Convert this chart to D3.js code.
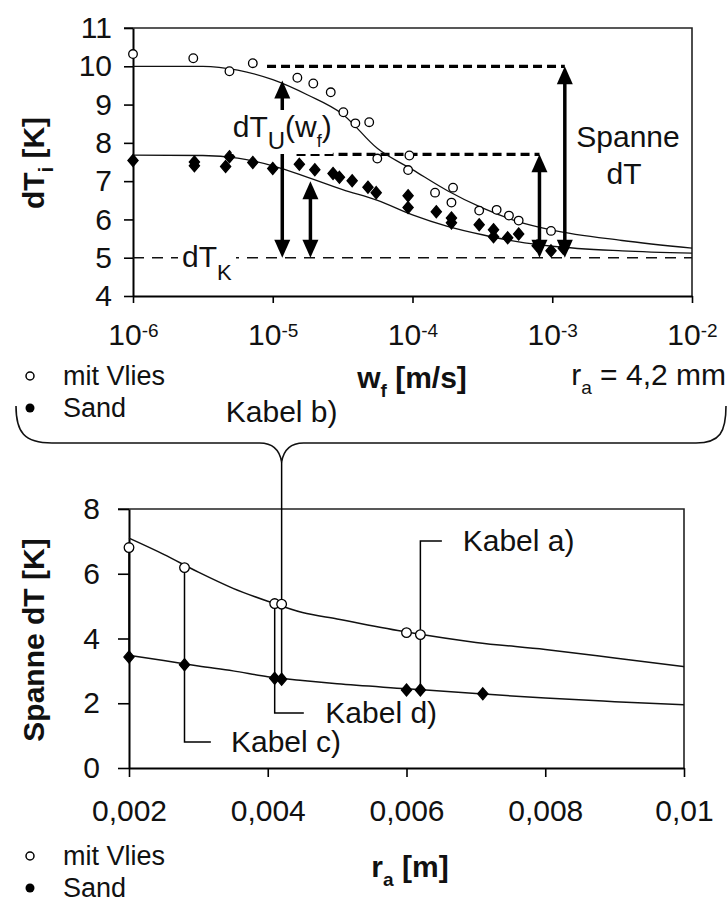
<!DOCTYPE html>
<html><head><meta charset="utf-8">
<script src="https://cdn.jsdelivr.net/npm/d3@7"></script>
<style>
body{margin:0;background:#fff}
text{font-family:"Liberation Sans",Arial,sans-serif;fill:#111}
</style></head><body>
<svg id="c" width="728" height="902" xmlns="http://www.w3.org/2000/svg"></svg>
<script>
// ---------- top chart data ----------
const topXTicks = [1e-6, 1e-5, 1e-4, 1e-3, 1e-2];
const topXTickExp = ["-6", "-5", "-4", "-3", "-2"];
const topYTicks = [4, 5, 6, 7, 8, 9, 10, 11];
const vliesW = [1e-6, 2.7e-6, 4.9e-6, 7.2e-6, 1.5e-5, 1.95e-5, 2.6e-5, 3.2e-5, 3.9e-5, 4.9e-5, 5.6e-5, 9.5e-5, 9.3e-5, 1.45e-4, 1.95e-4, 1.9e-4, 3.0e-4, 4.0e-4, 4.9e-4, 5.75e-4, 9.8e-4];
const vliesT = [10.32, 10.21, 9.87, 10.08, 9.70, 9.55, 9.32, 8.80, 8.51, 8.54, 7.59, 7.67, 7.29, 6.70, 6.83, 6.44, 6.23, 6.25, 6.10, 5.97, 5.70];
const sandW = [1e-6, 2.75e-6, 2.75e-6, 4.9e-6, 4.6e-6, 7.2e-6, 1e-5, 1.55e-5, 2e-5, 2.7e-5, 3.0e-5, 3.7e-5, 4.8e-5, 5.5e-5, 9.3e-5, 9.3e-5, 1.48e-4, 1.9e-4, 1.9e-4, 3.0e-4, 3.8e-4, 3.8e-4, 4.8e-4, 5.75e-4, 7.8e-4, 9.8e-4, 1.2e-3];
const sandT = [7.54, 7.50, 7.40, 7.64, 7.38, 7.49, 7.33, 7.44, 7.30, 7.20, 7.10, 7.01, 6.84, 6.70, 6.62, 6.31, 6.20, 6.04, 5.91, 5.86, 5.73, 5.55, 5.52, 5.62, 5.31, 5.18, 5.25];
const fitW = [1e-6, 3.16e-6, 5.62e-6, 1e-5, 1.78e-5, 3.16e-5, 5.62e-5, 1e-4, 1.78e-4, 3.16e-4, 5.62e-4, 1e-3, 3.16e-3, 1e-2];
const fitVliesT = [10.0, 10.0, 9.9, 9.65, 9.25, 8.75, 7.85, 7.3, 6.75, 6.3, 5.95, 5.72, 5.45, 5.25];
const fitSandT = [7.68, 7.67, 7.6, 7.4, 7.1, 6.78, 6.5, 6.12, 5.82, 5.6, 5.42, 5.3, 5.18, 5.12];
const dTK = 5;
const spanLevels = [10.0, 7.7];
const spanStartW = [9.1e-6, 1.48e-5];
const arrowW = [1.17e-5, 1.86e-5, 8.1e-4, 1.23e-3];
const arrowTop = [9.63, 7.0, 7.7, 10.0];

// ---------- bottom chart data ----------
const raTicks = [0.002, 0.004, 0.006, 0.008, 0.01];
const raTickLabels = ["0,002", "0,004", "0,006", "0,008", "0,01"];
const spanYTicks = [0, 2, 4, 6, 8];
const vliesRa = [0.002, 0.0028, 0.0041, 0.0042, 0.006, 0.0062];
const vliesSpan = [6.81, 6.19, 5.08, 5.06, 4.18, 4.12];
const sandRa = [0.002, 0.0028, 0.0041, 0.0042, 0.006, 0.0062, 0.0071];
const sandSpan = [3.43, 3.19, 2.77, 2.74, 2.41, 2.41, 2.29];
const fitRa = [0.002, 0.0025, 0.003, 0.0035, 0.004, 0.0045, 0.005, 0.006, 0.007, 0.008, 0.009, 0.01];
const fitRaVlies = [7.1, 6.6, 6.05, 5.55, 5.15, 4.8, 4.6, 4.2, 3.88, 3.66, 3.4, 3.13];
const fitRaSand = [3.48, 3.32, 3.15, 3.0, 2.82, 2.7, 2.6, 2.45, 2.3, 2.16, 2.05, 1.95];

const FS = 30;
const svg = d3.select("#c");

// ================= TOP CHART =================
const xT = d3.scaleLog().domain([1e-6, 1e-2]).range([133, 692]);
const yT = d3.scaleLinear().domain([4, 11]).range([296, 28]);

svg.append("path")
  .attr("d", `M${xT(1e-6) - 9},${yT(11)}H${xT(1e-2)}V${yT(4)}`)
  .attr("fill", "none").attr("stroke", "#222").attr("stroke-width", 1.6);

const gyT = svg.append("g").attr("transform", `translate(${xT(1e-6)},0)`)
  .call(d3.axisLeft(yT).tickValues(topYTicks).tickFormat(d3.format("d")).tickSize(9).tickPadding(12).tickSizeOuter(0));
const gxT = svg.append("g").attr("transform", `translate(0,${yT(4)})`)
  .call(d3.axisBottom(xT).tickValues(topXTicks).tickSize(7).tickPadding(21).tickSizeOuter(0).tickFormat(() => ""));
gxT.selectAll(".tick text").each(function (d, i) {
  const t = d3.select(this);
  t.append("tspan").text("10");
  t.append("tspan").attr("dy", "-0.42em").attr("font-size", 19).text(topXTickExp[i]);
});

svg.append("line")
  .attr("x1", xT(1e-6)).attr("x2", xT(1e-2)).attr("y1", yT(dTK)).attr("y2", yT(dTK))
  .attr("stroke", "#111").attr("stroke-width", 1.5).attr("stroke-dasharray", "11,8");

spanLevels.forEach((v, i) => {
  svg.append("line")
    .attr("x1", xT(spanStartW[i])).attr("x2", xT(arrowW[i === 0 ? 3 : 2]))
    .attr("y1", yT(v)).attr("y2", yT(v))
    .attr("stroke", "#000").attr("stroke-width", 3.2).attr("stroke-dasharray", "9,5");
});

const lineT = d3.line().x(d => xT(d[0])).y(d => yT(d[1])).curve(d3.curveMonotoneX);
[fitVliesT, fitSandT].forEach(arr => {
  svg.append("path").datum(fitW.map((w, i) => [w, arr[i]]))
    .attr("d", lineT).attr("fill", "none").attr("stroke", "#111").attr("stroke-width", 1.3);
});

function diamond(g, x, y, h, fill) {
  g.append("path").attr("d", `M${x},${y - h}L${x + h * 0.85},${y}L${x},${y + h}L${x - h * 0.85},${y}Z`)
    .attr("fill", fill).attr("stroke", "#000").attr("stroke-width", 1.3);
}
const mT = svg.append("g");
sandW.forEach((w, i) => diamond(mT, xT(w), yT(sandT[i]), 6, "#000"));
vliesW.forEach((w, i) => {
  mT.append("circle").attr("cx", xT(w)).attr("cy", yT(vliesT[i])).attr("r", 4.3)
    .attr("fill", "#fff").attr("stroke", "#000").attr("stroke-width", 1.3);
});

function dArrow(x, y1, y2) {
  const g = svg.append("g");
  g.append("line").attr("x1", x).attr("x2", x).attr("y1", y1 + 12).attr("y2", y2 - 12)
    .attr("stroke", "#000").attr("stroke-width", 3.5);
  g.append("path").attr("d", `M${x},${y1}L${x + 8},${y1 + 18}L${x - 8},${y1 + 18}Z`).attr("fill", "#000");
  g.append("path").attr("d", `M${x},${y2}L${x + 8},${y2 - 18}L${x - 8},${y2 - 18}Z`).attr("fill", "#000");
}
arrowW.forEach((w, i) => dArrow(xT(w), yT(arrowTop[i]), yT(dTK)));

function labelBg(t, padX, padY) {
  const b = t.node().getBBox();
  const r = document.createElementNS("http://www.w3.org/2000/svg", "rect");
  t.node().parentNode.insertBefore(r, t.node());
  d3.select(r)
    .attr("x", b.x - padX).attr("y", b.y - padY).attr("width", b.width + 2 * padX).attr("height", b.height + 2 * padY)
    .attr("fill", "#fff");
}
const tU = svg.append("text").attr("x", xT(1.17e-5)).attr("y", 137).attr("text-anchor", "middle").attr("font-size", FS);
tU.append("tspan").text("dT");
tU.append("tspan").attr("dy", 12).attr("font-size", 24).text("U");
tU.append("tspan").attr("dy", -12).text("(w");
tU.append("tspan").attr("dy", 10).attr("font-size", 18).text("f");
tU.append("tspan").attr("dy", -10).text(")");
labelBg(tU, 1, 0);

const tK = svg.append("text").attr("x", 182).attr("y", 267).attr("font-size", FS);
tK.append("tspan").text("dT");
tK.append("tspan").attr("dy", 13).attr("font-size", 22).text("K");
labelBg(tK, 4, -6);

svg.append("text").attr("x", 628).attr("y", 147).attr("text-anchor", "middle").attr("font-size", FS).text("Spanne");
svg.append("text").attr("x", 624).attr("y", 184).attr("text-anchor", "middle").attr("font-size", FS).text("dT");

const yt1 = svg.append("text").attr("transform", `translate(44,163) rotate(-90)`).attr("text-anchor", "middle")
  .attr("font-size", 30).attr("font-weight", "bold");
yt1.append("tspan").text("dT");
yt1.append("tspan").attr("dy", 9).attr("font-size", 20).text("i");
yt1.append("tspan").attr("dy", -9).text(" [K]");

const xt1 = svg.append("text").attr("x", 412).attr("y", 388).attr("text-anchor", "middle")
  .attr("font-size", 30).attr("font-weight", "bold");
xt1.append("tspan").text("w");
xt1.append("tspan").attr("dy", 9).attr("font-size", 19).text("f");
xt1.append("tspan").attr("dy", -9).text(" [m/s]");

const ra = svg.append("text").attr("x", 726).attr("y", 385).attr("text-anchor", "end").attr("font-size", FS);
ra.append("tspan").text("r");
ra.append("tspan").attr("dy", 9).attr("font-size", 19).text("a");
ra.append("tspan").attr("dy", -9).text(" = 4,2 mm");

function legend(y0, gap) {
  const LF = 27;
  svg.append("circle").attr("cx", 30).attr("cy", y0).attr("r", 4).attr("fill", "#fff").attr("stroke", "#000").attr("stroke-width", 1.5);
  svg.append("text").attr("x", 63).attr("y", y0 + 9).attr("font-size", LF).text("mit Vlies");
  svg.append("circle").attr("cx", 30).attr("cy", y0 + gap).attr("r", 4.5).attr("fill", "#000");
  svg.append("text").attr("x", 63).attr("y", y0 + gap + 9).attr("font-size", LF).text("Sand");
}
legend(376, 32);

// ================= BOTTOM CHART =================
const xB = d3.scaleLinear().domain([0.002, 0.01]).range([129, 684]);
const yB = d3.scaleLinear().domain([0, 8]).range([768, 509]);

const bx = xB(0.0042);
svg.append("path")
  .attr("d", `M16,406 C16,432 24,443 52,443 H${bx - 22} C${bx - 8},443 ${bx - 2},450 ${bx},462 C${bx + 2},450 ${bx + 8},443 ${bx + 22},443 H696 C720,443 726,432 726,406`)
  .attr("fill", "none").attr("stroke", "#111").attr("stroke-width", 1.6);
svg.append("text").attr("x", bx).attr("y", 422).attr("text-anchor", "middle").attr("font-size", FS).text("Kabel b)");

svg.append("path")
  .attr("d", `M${xB(0.002) - 11},${yB(8)}H${xB(0.01)}V${yB(0)}`)
  .attr("fill", "none").attr("stroke", "#222").attr("stroke-width", 1.6);

const gyB = svg.append("g").attr("transform", `translate(${xB(0.002)},0)`)
  .call(d3.axisLeft(yB).tickValues(spanYTicks).tickFormat(d3.format("d")).tickSize(11).tickPadding(18).tickSizeOuter(0));
const gxB = svg.append("g").attr("transform", `translate(0,${yB(0)})`)
  .call(d3.axisBottom(xB).tickValues(raTicks).tickSize(9).tickPadding(23).tickSizeOuter(0)
    .tickFormat((d, i) => raTickLabels[i]));

[gyT, gxT, gyB, gxB].forEach(g => {
  g.select(".domain").attr("stroke", "#000").attr("stroke-width", 2);
  g.selectAll(".tick line").attr("stroke", "#000").attr("stroke-width", 1.6);
  g.selectAll(".tick text").attr("font-size", FS).attr("fill", "#111")
    .attr("font-family", '"Liberation Sans",Arial,sans-serif');
});

const lead = svg.append("g").attr("fill", "none").attr("stroke", "#000").attr("stroke-width", 1.5);
lead.append("path").attr("d", `M${bx},462 V${yB(2.74)}`);
lead.append("path").attr("d", `M${xB(0.0041)},${yB(5.08)} V${yB(1.70)} H${xB(0.00452)}`);
lead.append("path").attr("d", `M${xB(0.0028)},${yB(6.19)} V${yB(0.80)} H${xB(0.00318)}`);
lead.append("path").attr("d", `M${xB(0.0062)},${yB(2.41)} V${yB(7.01)} H${xB(0.00651)}`);
lead.append("path").attr("d", `M${xB(0.002)},${yB(6.81)} V${yB(3.43)}`);

svg.append("text").attr("x", xB(0.00681)).attr("y", yB(7.01) + 10).attr("font-size", FS).text("Kabel a)");
svg.append("text").attr("x", xB(0.00483)).attr("y", yB(1.70) + 10).attr("font-size", FS).text("Kabel d)");
svg.append("text").attr("x", xB(0.00347)).attr("y", yB(0.80) + 10).attr("font-size", FS).text("Kabel c)");

const lineB = d3.line().x(d => xB(d[0])).y(d => yB(d[1])).curve(d3.curveMonotoneX);
[fitRaVlies, fitRaSand].forEach(arr => {
  svg.append("path").datum(fitRa.map((r, i) => [r, arr[i]]))
    .attr("d", lineB).attr("fill", "none").attr("stroke", "#111").attr("stroke-width", 1.5);
});
const mB = svg.append("g");
sandRa.forEach((r, i) => diamond(mB, xB(r), yB(sandSpan[i]), 6, "#000"));
vliesRa.forEach((r, i) => {
  mB.append("circle").attr("cx", xB(r)).attr("cy", yB(vliesSpan[i])).attr("r", 4.8)
    .attr("fill", "#fff").attr("stroke", "#000").attr("stroke-width", 1.3);
});

svg.append("text").attr("transform", `translate(44,640) rotate(-90)`).attr("text-anchor", "middle")
  .attr("font-size", 30).attr("font-weight", "bold").text("Spanne dT [K]");
const xt2 = svg.append("text").attr("x", 410).attr("y", 877).attr("text-anchor", "middle")
  .attr("font-size", 30).attr("font-weight", "bold");
xt2.append("tspan").text("r");
xt2.append("tspan").attr("dy", 9).attr("font-size", 19).text("a");
xt2.append("tspan").attr("dy", -9).text(" [m]");

legend(856, 32);
</script>
</body></html>
